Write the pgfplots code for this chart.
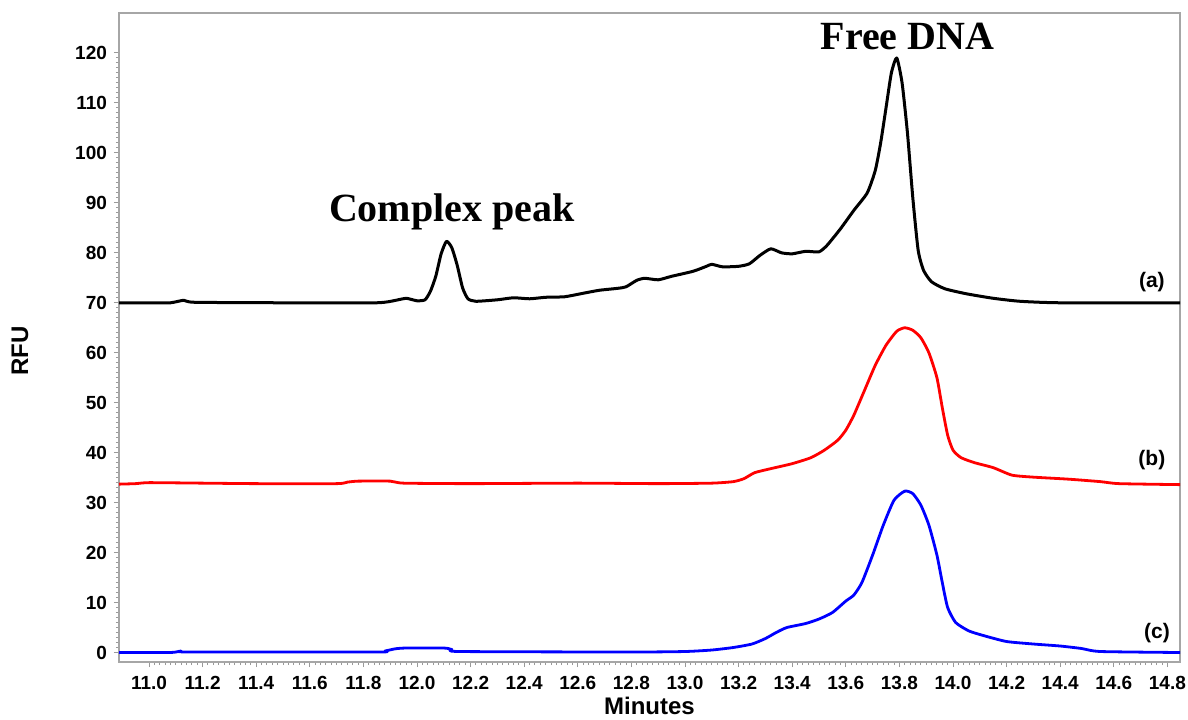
\documentclass[border=0pt]{standalone}
\usepackage{pgfplots}
\pgfplotsset{compat=1.18}
\usepackage{fontspec}
\setmainfont{Liberation Sans}
\newfontfamily\serifb{Liberation Serif}
\begin{document}
\begin{tikzpicture}
\begin{axis}[
  scale only axis,
  width=530.5pt, height=324.5pt,
  xmin=10.888, xmax=14.847, ymin=-1.9, ymax=128,
  xtick={11.0,11.2,11.4,11.6,11.8,12.0,12.2,12.4,12.6,12.8,13.0,13.2,13.4,13.6,13.8,14.0,14.2,14.4,14.6,14.8},
  ytick={0,10,20,30,40,50,60,70,80,90,100,110,120},
  minor x tick num=9, minor y tick num=9,
  tick align=outside,
  xtick pos=bottom, ytick pos=left,
  major tick length=2.5pt, minor tick length=1.5pt,
  every tick/.style={gray!80, line width=0.5pt},
  axis line style={gray!70, line width=0.8pt},
  /pgf/number format/assume math mode=true,
  xticklabel style={/pgf/number format/.cd, fixed, fixed zerofill, precision=1},
  yticklabel style={/pgf/number format/.cd, fixed, precision=0},
  tick label style={font=\fontsize{9.5}{11}\selectfont\bfseries, black},
  xticklabel shift=1pt,
  ylabel={RFU}, xlabel={Minutes},
  ylabel style={font=\fontsize{12}{14}\selectfont\bfseries, at={([xshift=-49.5pt]axis description cs:0,0.479)}, anchor=center},
  xlabel style={font=\fontsize{12}{14}\selectfont\bfseries, at={([yshift=-26pt]axis description cs:0.5,0)}, anchor=base},
  clip=true,
  every axis plot/.append style={smooth, tension=0.35, line join=round},
]
\addplot[black, line width=1.5pt] coordinates {
(10.888,70.0) (11.00,70.0) (11.08,70.0) (11.13,70.5) (11.17,70.1) (11.50,70.0) (11.85,70.0)
(11.93,70.6) (11.96,70.9) (12.00,70.4) (12.03,70.6) (12.05,72.3) (12.07,75.3) (12.09,79.8)
(12.11,82.3) (12.13,81.0) (12.15,77.5) (12.17,73.0) (12.19,70.8) (12.22,70.3) (12.30,70.6)
(12.36,71.0) (12.42,70.8) (12.48,71.1) (12.55,71.2) (12.61,71.8) (12.68,72.5) (12.75,72.9)
(12.78,73.2) (12.82,74.5) (12.85,74.9) (12.90,74.6) (12.95,75.3) (13.03,76.3) (13.08,77.3)
(13.10,77.7) (13.14,77.2) (13.20,77.3) (13.24,77.8) (13.28,79.5) (13.32,80.8) (13.36,80.0)
(13.40,79.8) (13.45,80.3) (13.50,80.2) (13.53,81.5) (13.58,84.8) (13.63,88.5) (13.68,92.0)
(13.71,96.5) (13.73,102) (13.75,109) (13.77,116) (13.79,119) (13.81,114) (13.83,104)
(13.85,91) (13.87,80.5) (13.89,76.5) (13.92,74.2) (13.97,72.8) (14.05,71.8) (14.15,70.9)
(14.25,70.3) (14.40,70.0) (14.85,70.0)
};
\addplot[red, line width=1.4pt] coordinates {
(10.888,33.7) (10.95,33.8) (11.00,34.0) (11.20,33.9) (11.40,33.8) (11.70,33.8) (11.74,34.1) (11.78,34.3)
(11.90,34.3) (11.95,33.9) (12.20,33.8) (12.60,33.9) (12.90,33.8) (13.10,33.9) (13.18,34.2)
(13.22,34.8) (13.26,36.0) (13.32,36.8) (13.40,37.8) (13.47,39.0) (13.52,40.5) (13.57,42.5)
(13.60,44.5) (13.63,47.5) (13.67,52.5) (13.71,57.5) (13.75,61.5) (13.79,64.3) (13.82,65.0)
(13.85,64.5) (13.88,63.0) (13.91,60.0) (13.94,55.0) (13.96,49.0) (13.98,43.5) (14.00,40.5)
(14.03,39.0) (14.08,38.0) (14.15,37.0) (14.22,35.5) (14.30,35.1) (14.43,34.7) (14.55,34.2)
(14.62,33.8) (14.85,33.6)
};
\addplot[blue, line width=1.4pt] coordinates {
(10.888,0.0) (11.08,0.0) (11.12,0.3) (11.15,0.1) (11.85,0.1) (11.88,0.3) (11.92,0.75) (11.96,0.9)
(12.10,0.9) (12.13,0.6) (12.16,0.2) (12.80,0.1) (13.00,0.2) (13.10,0.5) (13.18,1.0) (13.25,1.7)
(13.30,2.8) (13.34,4.0) (13.38,5.0) (13.45,5.8) (13.50,6.7) (13.55,8.0) (13.60,10.3)
(13.63,11.5) (13.66,14.0) (13.70,19.5) (13.74,25.5) (13.78,30.5) (13.82,32.3) (13.85,31.8)
(13.88,29.5) (13.91,25.5) (13.94,19.5) (13.96,14.0) (13.98,9.0) (14.01,6.0) (14.06,4.3)
(14.12,3.3) (14.20,2.2) (14.30,1.7) (14.40,1.3) (14.48,0.8) (14.55,0.2) (14.85,0.0)
};
\node[font=\serifb\fontsize{20}{22}\selectfont\bfseries] at (axis cs:12.13,88.1) {Complex peak};
\node[font=\serifb\fontsize{20}{22}\selectfont\bfseries] at (axis cs:13.83,123.3) {Free DNA};
\node[font=\fontsize{10.5}{12}\selectfont\bfseries] at (axis cs:14.742,74.1) {(a)};
\node[font=\fontsize{10.5}{12}\selectfont\bfseries] at (axis cs:14.742,38.5) {(b)};
\node[font=\fontsize{10.5}{12}\selectfont\bfseries] at (axis cs:14.761,3.9) {(c)};
\end{axis}
\pgfresetboundingbox
\path[use as bounding box] ([shift={(-59.5pt,-28.5pt)}]current axis.south west) rectangle ([shift={(4pt,6.5pt)}]current axis.north east);
\end{tikzpicture}
\end{document}
